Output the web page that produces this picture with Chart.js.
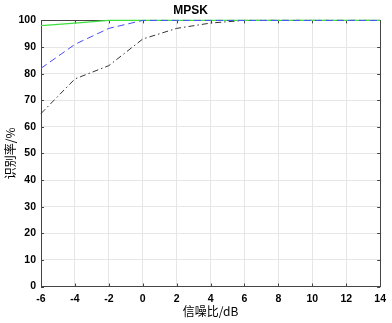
<!DOCTYPE html>
<html>
<head>
<meta charset="utf-8">
<script src="https://cdn.jsdelivr.net/npm/chart.js@4/dist/chart.umd.min.js"></script>
<style>
  html, body { margin: 0; padding: 0; background: #fff; }
  #wrap { width: 392px; height: 323px; position: relative; }
</style>
</head>
<body>
<div id="wrap"><canvas id="c"></canvas></div>
<script>
// SNR (dB) vs recognition rate (%)
const snr = [-6, -4, -2, 0, 2, 4, 6, 8, 10, 12, 14];
const rateGreen = [98, 99, 100, 100, 100, 100, 100, 100, 100, 100, 100];
const rateBlue = [82, 91, 97, 100, 100, 100, 100, 100, 100, 100, 100];
const rateBlack = [65, 78, 83, 93, 97, 99, 100, 100, 100, 100, 100];
const xTicks = [-6, -4, -2, 0, 2, 4, 6, 8, 10, 12, 14];
const yTicks = [0, 10, 20, 30, 40, 50, 60, 70, 80, 90, 100];

const pts = arr => arr.map((v, i) => ({ x: snr[i], y: v }));
const TICK_FONT = { family: "'Liberation Sans', Arial, sans-serif", size: 10.5, weight: "bold" };
const CJK_FONT = { family: "'Noto Sans CJK SC', sans-serif", size: 12 };

// MATLAB-style box with inward tick marks on all four sides (drawn under the lines)
const boxPlugin = {
  id: "box",
  beforeDatasetsDraw(chart) {
    const { ctx, chartArea: a, scales: { x, y } } = chart;
    ctx.save();
    ctx.strokeStyle = "#444";
    ctx.lineWidth = 1;
    ctx.beginPath();
    xTicks.forEach(t => {
      const px = Math.round(x.getPixelForValue(t)) + 0.5;
      ctx.moveTo(px, a.bottom); ctx.lineTo(px, a.bottom - 3);
      ctx.moveTo(px, a.top); ctx.lineTo(px, a.top + 3);
    });
    yTicks.forEach(t => {
      const py = Math.round(y.getPixelForValue(t)) + 0.5;
      ctx.moveTo(a.left, py); ctx.lineTo(a.left + 3, py);
      ctx.moveTo(a.right, py); ctx.lineTo(a.right - 3, py);
    });
    ctx.stroke();
    ctx.strokeRect(Math.round(a.left) + 0.5, Math.round(a.top) + 0.5,
      Math.round(a.right - a.left), Math.round(a.bottom - a.top));
    ctx.restore();
  },
};

new Chart(document.getElementById("c"), {
  type: "line",
  data: {
    datasets: [
      { label: "blue", data: pts(rateBlue), borderColor: "#4a4aff", borderWidth: 1,
        borderDash: [7, 4], pointRadius: 0, tension: 0, clip: false },
      { label: "green", data: pts(rateGreen), borderColor: "#3ee03e", borderWidth: 1.2,
        pointRadius: 0, tension: 0, clip: false },
      { label: "black", data: pts(rateBlack), borderColor: "#333", borderWidth: 1,
        borderDash: [6, 3, 1.5, 3], pointRadius: 0, tension: 0, clip: false },
    ],
  },
  options: {
    responsive: true, maintainAspectRatio: false, animation: false,
    layout: { padding: { top: 0, right: 11, left: 0, bottom: 0 } },
    plugins: {
      legend: { display: false },
      tooltip: { enabled: false },
      title: { display: true, text: "MPSK", color: "#000",
        font: { family: "'Liberation Sans', Arial, sans-serif", size: 12, weight: "bold" },
        padding: { top: 3, bottom: 3 } },
    },
    scales: {
      x: {
        type: "linear", min: -6, max: 14,
        afterBuildTicks: s => { s.ticks = xTicks.map(v => ({ value: v })); },
        afterFit: s => { s.height = 36.5; },
        grid: { color: "#e6e6e6", drawTicks: false },
        border: { display: false },
        ticks: { color: "#000", font: TICK_FONT, padding: 6, maxRotation: 0 },
        title: { display: true, text: "信噪比/dB", color: "#000", font: CJK_FONT, padding: { top: 0, bottom: 4 } },
      },
      y: {
        min: 0, max: 100,
        afterBuildTicks: s => { s.ticks = yTicks.map(v => ({ value: v })); },
        afterFit: s => { s.width = 41; },
        grid: { color: "#e6e6e6", drawTicks: false },
        border: { display: false },
        ticks: { color: "#000", font: TICK_FONT, padding: 5 },
        title: { display: true, text: "识别率/%", color: "#000", font: CJK_FONT, padding: { top: 3 } },
      },
    },
  },
  plugins: [boxPlugin],
});
</script>
</body>
</html>
